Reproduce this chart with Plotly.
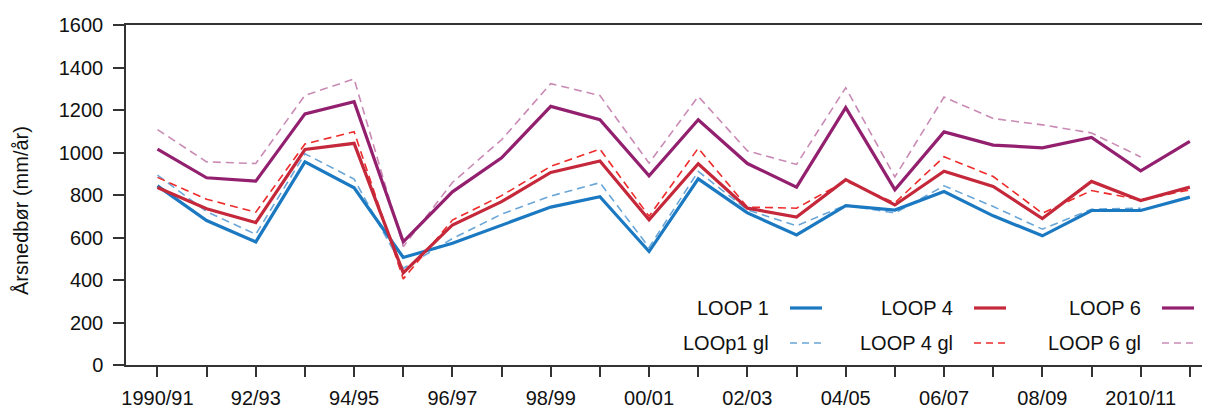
import plotly.graph_objects as go

# ---------------- data ----------------
seasons = ["1990/91", "1991/92", "1992/93", "1993/94", "1994/95", "1995/96",
           "1996/97", "1997/98", "1998/99", "1999/00", "2000/01", "2001/02",
           "2002/03", "2003/04", "2004/05", "2005/06", "2006/07", "2007/08",
           "2008/09", "2009/10", "2010/11", "2011/12"]
tick_labels = ["1990/91", "", "92/93", "", "94/95", "", "96/97", "", "98/99", "",
               "00/01", "", "02/03", "", "04/05", "", "06/07", "", "08/09", "",
               "2010/11", ""]

loop1 = [843, 680, 579, 956, 834, 506, 573, 658, 743, 792, 534, 876, 716, 612,
         750, 729, 816, 702, 608, 727, 727, 790]
loop1_gl = [894, 722, 615, 994, 875, 455, 595, 710, 795, 858, 553, 911, 730, 655,
            752, 715, 843, 746, 639, 733, 738, None]
loop4 = [835, 735, 670, 1014, 1043, 434, 659, 769, 906, 960, 683, 947, 738, 696,
         872, 753, 912, 840, 689, 864, 774, 837]
loop4_gl = [883, 780, 719, 1040, 1098, 405, 682, 797, 935, 1016, 700, 1020, 743, 738,
            866, 763, 980, 887, 714, 821, 777, 824]
loop6 = [1016, 881, 865, 1182, 1239, 580, 815, 975, 1217, 1154, 890, 1154, 948, 837,
         1211, 825, 1097, 1035, 1022, 1071, 914, 1052]
loop6_gl = [1108, 956, 948, 1269, 1346, 557, 859, 1060, 1324, 1268, 950, 1264, 1008, 944,
            1305, 885, 1261, 1160, 1130, 1092, 979, None]

series_names = ["LOOP 1", "LOOP 4", "LOOP 6", "LOOp1 gl", "LOOP 4 gl", "LOOP 6 gl"]

# ---------------- styling ----------------
FONT = "Liberation Sans, Arial, sans-serif"
OFF = 8                      # page body margin offset
W, H = 1210 - OFF, 410 - OFF
ML, MR, MT, MB = 126 - OFF, 0, 25 - OFF, 45
PW, PH = W - ML - MR, H - MT - MB

styles = {
    "LOOP 1":    dict(color="#1b79c2", width=3.2, dash="solid"),
    "LOOP 4":    dict(color="#c4283a", width=3.2, dash="solid"),
    "LOOP 6":    dict(color="#93206f", width=3.2, dash="solid"),
    "LOOp1 gl":  dict(color="#6aa7d8", width=1.6, dash="8px,5px"),
    "LOOP 4 gl": dict(color="#ee2b2b", width=1.6, dash="8px,5px"),
    "LOOP 6 gl": dict(color="#c98ab5", width=1.6, dash="8px,5px"),
}
values = {"LOOP 1": loop1, "LOOP 4": loop4, "LOOP 6": loop6,
          "LOOp1 gl": loop1_gl, "LOOP 4 gl": loop4_gl, "LOOP 6 gl": loop6_gl}

fig = go.Figure()
draw_order = ["LOOp1 gl", "LOOP 1", "LOOP 4 gl", "LOOP 4", "LOOP 6 gl", "LOOP 6"]
for name in draw_order:
    st = styles[name]
    fig.add_trace(go.Scatter(
        x=seasons, y=values[name], mode="lines", name=name,
        line=dict(color=st["color"], width=st["width"], dash=st["dash"]),
        connectgaps=False, showlegend=False, cliponaxis=False))

AXCOL = "#333333"
fig.update_layout(
    width=W, height=H,
    margin=dict(l=ML, r=MR, t=MT, b=MB, pad=0),
    paper_bgcolor="white", plot_bgcolor="white",
    font=dict(family=FONT, size=20, color="#111111"),
    xaxis=dict(
        type="category", categoryorder="array", categoryarray=seasons,
        tickmode="array", tickvals=seasons, ticktext=tick_labels,
        range=[-0.64, 21.41],
        showline=True, linecolor=AXCOL, linewidth=1.5, mirror=True,
        ticks="outside", ticklen=10, tickwidth=1.5, tickcolor=AXCOL,
        showgrid=False, zeroline=False,
        tickfont=dict(family=FONT, size=20, color="#111111"),
        ticklabelstandoff=4,
    ),
    yaxis=dict(
        range=[0, 1600], tickmode="linear", tick0=0, dtick=200,
        showline=True, linecolor=AXCOL, linewidth=1.5,
        ticks="outside", ticklen=11, tickwidth=1.5, tickcolor=AXCOL,
        showgrid=False, zeroline=False,
        tickfont=dict(family=FONT, size=20, color="#111111"),
        ticklabelstandoff=6,
    ),
)

def px_x(p):
    """page pixel x -> paper coordinate"""
    return (p - OFF - ML) / PW

def px_y(p):
    """page pixel y -> paper coordinate"""
    return (MT + PH - (p - OFF)) / PH

# y-axis title
fig.add_annotation(
    text="Årsnedbør (mm/år)", textangle=-90, showarrow=False,
    xref="paper", yref="paper", x=px_x(21), y=px_y(211),
    xanchor="center", yanchor="middle",
    font=dict(family=FONT, size=20, color="#111111"))

# custom legend (text right-aligned, line sample to the right)
col_text_right = [771, 955, 1143]
row_y = [308, 343]
legend_grid = [["LOOP 1", "LOOP 4", "LOOP 6"],
               ["LOOp1 gl", "LOOP 4 gl", "LOOP 6 gl"]]
for r, row in enumerate(legend_grid):
    for c, name in enumerate(row):
        st = styles[name]
        tx = col_text_right[c]
        fig.add_annotation(
            text=name, showarrow=False, xref="paper", yref="paper",
            x=px_x(tx), y=px_y(row_y[r]), xanchor="right", yanchor="middle",
            font=dict(family=FONT, size=20, color="#111111"))
        fig.add_shape(
            type="line", xref="paper", yref="paper",
            x0=px_x(tx + 19), x1=px_x(tx + 51),
            y0=px_y(row_y[r]), y1=px_y(row_y[r]),
            line=dict(color=st["color"], width=st["width"],
                      dash="7px,5px" if st["dash"] != "solid" else "solid"))

fig.write_html("out.html")
